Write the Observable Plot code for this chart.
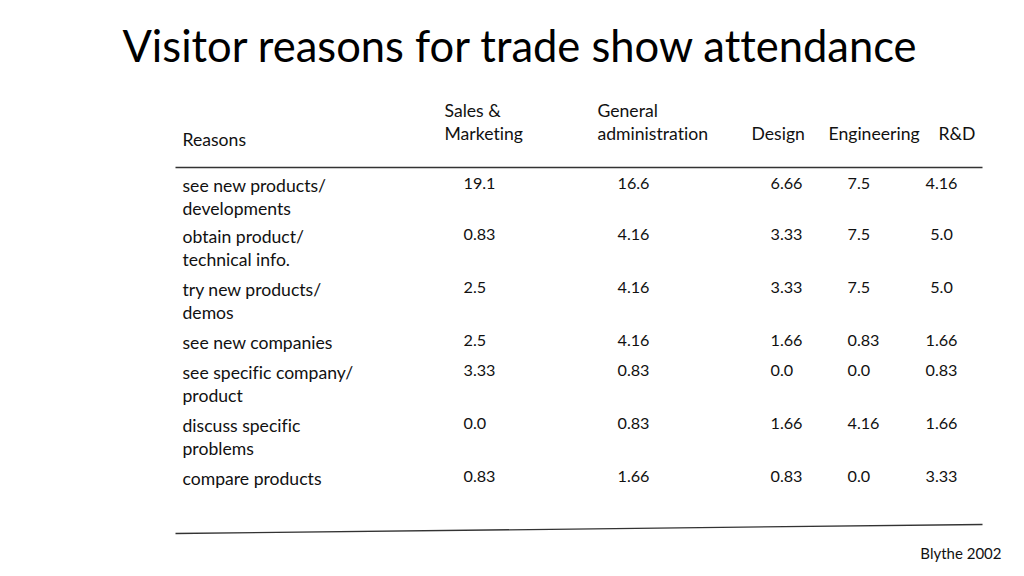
<!DOCTYPE html>
<html>
<head>
<meta charset="utf-8">
<script src="https://cdn.jsdelivr.net/npm/d3@7"></script>
<script src="https://cdn.jsdelivr.net/npm/@observablehq/plot@0.6"></script>
<style>
  html, body { margin: 0; padding: 0; background: #fff; }
  #chart svg { display: block; }
  #chart svg text { font-variant-ligatures: none; font-feature-settings: "liga" 0, "clig" 0; }
</style>
</head>
<body>
<div id="chart"></div>
<script>
// ---- data ----
const title = "Visitor reasons for trade show attendance";
const source = "Blythe 2002";
const rowHeader = "Reasons";
const columns = ["Sales & Marketing", "General administration", "Design", "Engineering", "R&D"];
const columnLabels = ["Sales &\nMarketing", "General\nadministration", "Design", "Engineering", "R&D"];
const reasons = [
  "see new products/\ndevelopments",
  "obtain product/\ntechnical info.",
  "try new products/\ndemos",
  "see new companies",
  "see specific company/\nproduct",
  "discuss specific\nproblems",
  "compare products"
];
const salesMarketing = ["19.1", "0.83", "2.5", "2.5", "3.33", "0.0", "0.83"];
const generalAdmin   = ["16.6", "4.16", "4.16", "4.16", "0.83", "0.83", "1.66"];
const design         = ["6.66", "3.33", "3.33", "1.66", "0.0", "1.66", "0.83"];
const engineering    = ["7.5", "7.5", "7.5", "0.83", "0.0", "4.16", "0.0"];
const rnd            = ["4.16", "5.0", "5.0", "1.66", "0.83", "1.66", "3.33"];
const seriesValues = [salesMarketing, generalAdmin, design, engineering, rnd];

// ---- layout (page coordinates, kept apart from the data) ----
const W = 1024, H = 576;
const rowTop = [177, 228, 281, 334, 364, 417, 470];
const colValueX = [463, 617, 770, 847, 941];
const colValueAnchor = ["start", "start", "start", "start", "middle"];
const colHeaderX = [444, 597, 751, 828, 938];
const colHeaderTop = [100, 100, 123, 123, 123];
const labelX = 182;
const fontFamily = "Lato, 'Open Sans', sans-serif";
const bodySize = 17.6;
const valueSize = 16.2;

const cells = [];
seriesValues.forEach((vals, c) => vals.forEach((v, r) => cells.push({
  column: columns[c], reason: reasons[r], value: v,
  x: colValueX[c], y: rowTop[r], anchor: colValueAnchor[c]
})));
const headerCells = columnLabels.map((t, c) => ({text: t, x: colHeaderX[c], y: colHeaderTop[c]}));
const reasonCells = reasons.map((t, r) => ({text: t, x: labelX, y: rowTop[r] - 2}));

const chart = Plot.plot({
  width: W, height: H,
  marginTop: 0, marginRight: 0, marginBottom: 0, marginLeft: 0,
  x: {domain: [0, W], range: [0, W], axis: null},
  y: {domain: [0, H], range: [0, H], axis: null},
  style: {fontFamily, background: "#fff", color: "#000"},
  marks: [
    Plot.text([title], {x: () => 519, y: () => 48, text: d => d, fontSize: 43.5, textAnchor: "middle", lineAnchor: "middle", fill: "#000"}),
    Plot.text([rowHeader], {x: () => labelX, y: () => 133, text: d => d, fontSize: bodySize, textAnchor: "start", lineAnchor: "top", fill: "#111"}),
    Plot.text(headerCells, {x: "x", y: "y", text: "text", fontSize: bodySize, textAnchor: "start", lineAnchor: "top", lineHeight: 1.31, fill: "#111"}),
    Plot.link([0], {x1: () => 175, x2: () => 982, y1: () => 167, y2: () => 167, stroke: "#333", strokeWidth: 1.3}),
    Plot.text(reasonCells, {x: "x", y: "y", text: "text", fontSize: bodySize, textAnchor: "start", lineAnchor: "top", lineHeight: 1.31, fill: "#111"}),
    Plot.text(cells.filter(d => d.anchor === "start"), {x: "x", y: "y", text: "value", fontSize: valueSize, textAnchor: "start", lineAnchor: "top", fill: "#111"}),
    Plot.text(cells.filter(d => d.anchor === "middle"), {x: "x", y: "y", text: "value", fontSize: valueSize, textAnchor: "middle", lineAnchor: "top", fill: "#111"}),
    Plot.link([0], {x1: () => 175, x2: () => 982, y1: () => 533, y2: () => 524, stroke: "#333", strokeWidth: 1.3}),
    Plot.text([source], {x: () => 1001, y: () => 548, text: d => d, fontSize: 15, textAnchor: "end", lineAnchor: "top", fill: "#111"})
  ]
});
document.getElementById("chart").appendChild(chart);
</script>
</body>
</html>
